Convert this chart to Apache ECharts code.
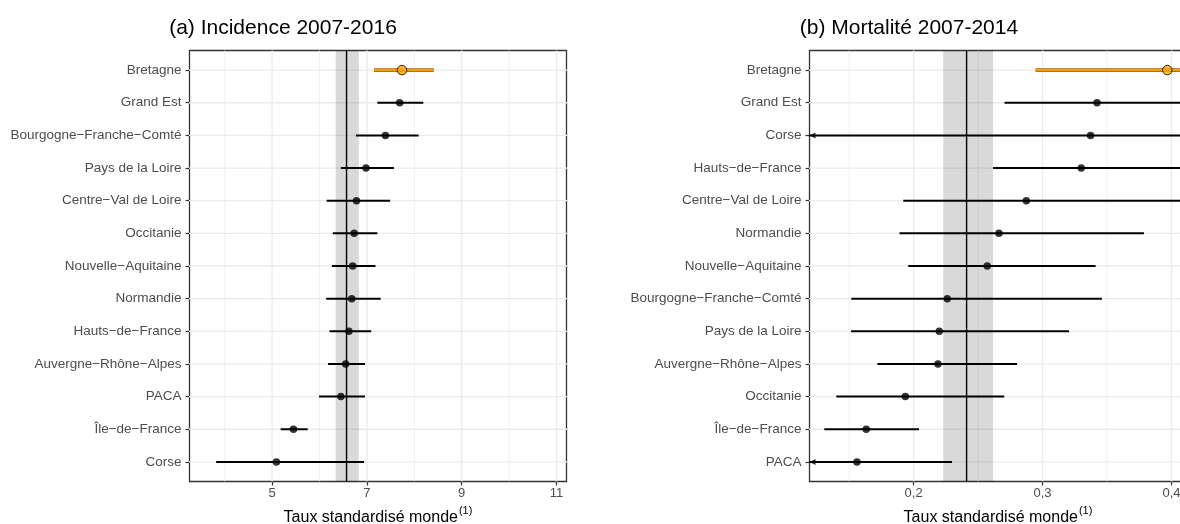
<!DOCTYPE html>
<html>
<head>
<meta charset="utf-8">
<script src="https://cdn.jsdelivr.net/npm/echarts@6/dist/echarts.min.js"></script>
<style>
  html, body { margin: 0; padding: 0; background: #fff; }
  #main { width: 1180px; height: 524px; }
</style>
</head>
<body>
<div id="main"></div>
<script>
// (a) Incidence 2007-2016
const regionsA = ['Bretagne', 'Grand Est', 'Bourgogne\u2212Franche\u2212Comté', 'Pays de la Loire',
  'Centre\u2212Val de Loire', 'Occitanie', 'Nouvelle\u2212Aquitaine', 'Normandie', 'Hauts\u2212de\u2212France',
  'Auvergne\u2212Rhône\u2212Alpes', 'PACA', 'Île\u2212de\u2212France', 'Corse'];
const ratesA = [7.74, 7.69, 7.39, 6.98, 6.78, 6.73, 6.70, 6.68, 6.62, 6.55, 6.45, 5.45, 5.09];
const lowA = [7.15, 7.22, 6.77, 6.45, 6.15, 6.28, 6.26, 6.14, 6.21, 6.18, 5.99, 5.18, 3.82];
const highA = [8.41, 8.19, 8.09, 7.57, 7.49, 7.22, 7.18, 7.29, 7.09, 6.96, 6.96, 5.75, 6.94];
const franceA = [6.57, 6.34, 6.83]; // rate, low, high
const ticksA = [5, 7, 9, 11];
const minorA = [4, 6, 8, 10];

// (b) Mortalité 2007-2014
const regionsB = ['Bretagne', 'Grand Est', 'Corse', 'Hauts\u2212de\u2212France', 'Centre\u2212Val de Loire',
  'Normandie', 'Nouvelle\u2212Aquitaine', 'Bourgogne\u2212Franche\u2212Comté', 'Pays de la Loire',
  'Auvergne\u2212Rhône\u2212Alpes', 'Occitanie', 'Île\u2212de\u2212France', 'PACA'];
const ratesB = [0.3967, 0.3422, 0.3372, 0.3300, 0.2874, 0.2662, 0.2571, 0.2261, 0.2199, 0.2189, 0.1936, 0.1633, 0.1561];
const lowB = [0.2946, 0.2705, 0.095, 0.2616, 0.1920, 0.1891, 0.1959, 0.1517, 0.1515, 0.1719, 0.1401, 0.1308, 0.105];
const highB = [0.52, 0.43, 0.62, 0.45, 0.42, 0.3786, 0.3411, 0.3460, 0.3205, 0.2802, 0.2703, 0.2042, 0.2298];
const franceB = [0.2411, 0.2230, 0.2616];
const ticksB = [0.2, 0.3, 0.4];
const minorB = [0.15, 0.25, 0.35];

const FONT = 'Liberation Sans';
const Y_MIN = -0.6, Y_MAX = 12.6;
const rowIdx = regionsA.map((_, i) => i);

function vline(api, x, style) {
  const p1 = api.coord([x, Y_MIN]);
  const p2 = api.coord([x, Y_MAX]);
  return { type: 'line', shape: { x1: p1[0], y1: p1[1], x2: p2[0], y2: p2[1] }, style: style };
}

function gridSeries(common, values, width) {
  return Object.assign({}, common, {
    type: 'custom', z: 1,
    encode: { x: 0 },
    data: values.map(v => [v]),
    renderItem: (params, api) => vline(api, api.value(0), { stroke: '#EBEBEB', lineWidth: width })
  });
}

function panelSeries(k, rates, low, high, france, ticks, minor, xMin) {
  const common = { xAxisIndex: k, yAxisIndex: k, silent: true, animation: false };
  return [
    gridSeries(common, ticks, 1.3),
    gridSeries(common, minor, 0.7),
    Object.assign({}, common, {
      type: 'custom', z: 1, clip: true,
      encode: { y: 0 },
      data: rowIdx.map(i => [i]),
      renderItem: (params, api) => {
        const p1 = api.coord([xMin - 1, api.value(0)]);
        const p2 = api.coord([1e3, api.value(0)]);
        return { type: 'line', shape: { x1: p1[0], y1: p1[1], x2: p2[0], y2: p2[1] },
          style: { stroke: '#EBEBEB', lineWidth: 1.3 } };
      }
    }),
    // France band + line
    Object.assign({}, common, {
      type: 'custom', z: 2,
      encode: { x: [0, 1, 2] },
      data: [france],
      renderItem: (params, api) => {
        const a = api.coord([api.value(1), Y_MIN]);
        const b = api.coord([api.value(2), Y_MAX]);
        return {
          type: 'group', children: [
            { type: 'rect', shape: { x: a[0], y: Math.min(a[1], b[1]), width: b[0] - a[0], height: Math.abs(b[1] - a[1]) },
              style: { fill: 'rgba(0,0,0,0.15)' } },
            vline(api, api.value(0), { stroke: '#000', lineWidth: 1.4 })
          ]
        };
      }
    }),
    // error bars
    Object.assign({}, common, {
      type: 'custom', z: 3, clip: true,
      encode: { y: 0, x: [1, 2] },
      data: rowIdx.map(i => [i, low[i], high[i]]),
      renderItem: (params, api) => {
        const y = api.value(0);
        const p1 = api.coord([api.value(1), y]);
        const p2 = api.coord([api.value(2), y]);
        const shape = { x1: p1[0], y1: p1[1], x2: p2[0], y2: p2[1] };
        if (params.dataIndex === 0) {
          return { type: 'group', children: [
            { type: 'line', shape: shape, style: { stroke: '#9a6500', lineWidth: 3.6 } },
            { type: 'line', shape: shape, style: { stroke: '#F5A000', lineWidth: 2.2 } }
          ] };
        }
        return { type: 'line', shape: shape, style: { stroke: '#000', lineWidth: 2 } };
      }
    }),
    // arrows for intervals cut at the left edge
    Object.assign({}, common, {
      type: 'scatter', z: 4,
      symbol: 'triangle', symbolSize: [6, 6], symbolRotate: 90, symbolOffset: [3, 0],
      itemStyle: { color: '#000' },
      data: rowIdx.filter(i => low[i] < xMin).map(i => [xMin, i])
    }),
    // points
    Object.assign({}, common, {
      type: 'scatter', z: 5,
      data: rowIdx.map(i => i === 0
        ? { value: [rates[i], i], symbolSize: 9.5, itemStyle: { color: '#FFA500', borderColor: '#000', borderWidth: 1 } }
        : { value: [rates[i], i], symbolSize: 7.5, itemStyle: { color: '#000' } })
    })
  ];
}

function xAxisFor(k, min, max, ticks, fmt) {
  return {
    type: 'value', gridIndex: k, min: min, max: max, position: 'bottom',
    axisLine: { show: false, onZero: false },
    splitLine: { show: false },
    axisTick: { show: true, length: 4, customValues: ticks, lineStyle: { color: '#333', width: 1.2 } },
    axisLabel: { customValues: ticks, margin: 5, color: '#4D4D4D', fontFamily: FONT, fontSize: 13, formatter: fmt },
    name: '{a|Taux standardisé monde}{b|(1)}',
    nameLocation: 'middle', nameGap: 24,
    nameTextStyle: {
      fontFamily: FONT,
      rich: {
        a: { fontFamily: FONT, fontSize: 16, color: '#000', lineHeight: 20, verticalAlign: 'bottom' },
        b: { fontFamily: FONT, fontSize: 11, color: '#000', lineHeight: 20, verticalAlign: 'top', padding: [0, 0, 0, 1] }
      }
    }
  };
}

function yAxisFor(k, regions) {
  return {
    type: 'value', gridIndex: k, min: Y_MIN, max: Y_MAX, inverse: true, position: 'left',
    axisLine: { show: false, onZero: false },
    splitLine: { show: false },
    axisTick: { show: true, length: 4, customValues: rowIdx, lineStyle: { color: '#333', width: 1.2 } },
    axisLabel: { customValues: rowIdx, margin: 8, color: '#4D4D4D', fontFamily: FONT, fontSize: 13.5,
      formatter: v => regions[Math.round(v)] }
  };
}

const gridBase = { top: 50.5, width: 377, height: 431, show: true, borderColor: '#333', borderWidth: 1.3,
  backgroundColor: '#fff', outerBoundsMode: 'none', containLabel: false };

const chart = echarts.init(document.getElementById('main'));
chart.setOption({
  backgroundColor: '#fff',
  animation: false,
  grid: [
    Object.assign({ left: 189.5 }, gridBase),
    Object.assign({ left: 809.5 }, gridBase)
  ],
  xAxis: [
    xAxisFor(0, 3.257, 11.21, ticksA, v => String(v)),
    xAxisFor(1, 0.1193, 0.4116, ticksB, v => v.toFixed(1).replace('.', ','))
  ],
  yAxis: [yAxisFor(0, regionsA), yAxisFor(1, regionsB)],
  graphic: [
    { type: 'text', x: 283, y: 18, style: { text: '(a) Incidence 2007-2016', textAlign: 'center', fontFamily: FONT, fontSize: 21, fill: '#000' } },
    { type: 'text', x: 909, y: 18, style: { text: '(b) Mortalité 2007-2014', textAlign: 'center', fontFamily: FONT, fontSize: 21, fill: '#000' } }
  ],
  series: [].concat(
    panelSeries(0, ratesA, lowA, highA, franceA, ticksA, minorA, 3.257),
    panelSeries(1, ratesB, lowB, highB, franceB, ticksB, minorB, 0.1193)
  )
});
window.addEventListener('resize', () => chart.resize());
</script>
</body>
</html>
